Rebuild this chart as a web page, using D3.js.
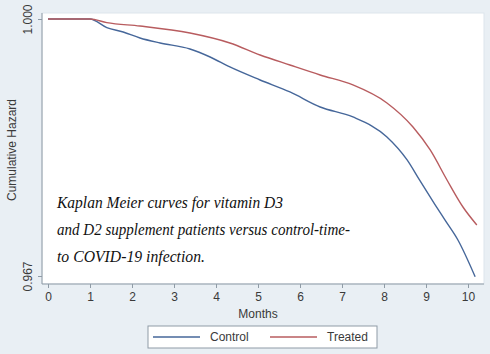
<!DOCTYPE html>
<html>
<head>
<meta charset="utf-8">
<script src="https://cdn.jsdelivr.net/npm/d3@7"></script>
<style>
  body { margin: 0; background: #e9eff4; }
  svg { display: block; }
  .tick text { font-family: "Liberation Sans", Arial, sans-serif; fill: #3a3a3a; }
</style>
</head>
<body>
<div id="chart"></div>
<script>
// figure size
var svgWidth = 490;
var svgHeight = 354;

// months
var controlMonths = [0, 1.0, 1.4, 1.79, 2.19, 2.67, 3.38, 3.86, 4.33, 5.05, 5.76, 6.48, 7.26, 8.07, 8.55, 8.86, 9.21, 9.45, 9.76, 10.17];
var controlHazard = [1.0, 1.0, 0.99890, 0.99833, 0.99756, 0.99692, 0.99615, 0.99512, 0.99384, 0.99217, 0.99063, 0.98870, 0.98742, 0.98485, 0.98190, 0.97920, 0.97620, 0.97420, 0.97162, 0.96690];

var treatedMonths = [0, 1.0, 1.4, 2.19, 3.38, 4.33, 5.05, 5.76, 6.48, 7.26, 8.07, 8.69, 9.10, 9.50, 9.88, 10.21];
var treatedHazard = [1.0, 1.0, 0.99953, 0.99910, 0.99820, 0.99692, 0.99538, 0.99409, 0.99281, 0.99153, 0.98922, 0.98613, 0.98318, 0.97933, 0.97586, 0.97355];

var xTicks = [0, 1, 2, 3, 4, 5, 6, 7, 8, 9, 10];
var yTicks = [0.967, 1.000];
var seriesNames = ["Control", "Treated"];
var seriesColors = ["#46679a", "#b85c5f"];
var noteLines = [
  "Kaplan Meier curves for vitamin D3",
  "and D2 supplement patients versus control-time-",
  "to COVID-19 infection."
];

var svg = d3.select("#chart")
  .append("svg")
  .attr("width", svgWidth)
  .attr("height", svgHeight);

// plot region (white box)
var plot = { left: 42, top: 13, right: 484, bottom: 284 };

svg.append("rect")
  .attr("x", plot.left)
  .attr("y", plot.top)
  .attr("width", plot.right - plot.left)
  .attr("height", plot.bottom - plot.top)
  .attr("fill", "#ffffff")
  .attr("stroke", "#dde5ec");

// scales
var xScale = d3.scaleLinear().domain([0, 10]).range([48, 468]);
var yScale = d3.scaleLinear().domain([0.967, 1.0]).range([276, 19]);

// x axis
var xAxis = svg.append("g")
  .attr("transform", `translate(0, ${plot.bottom})`)
  .call(d3.axisBottom(xScale).tickValues(xTicks).tickSize(4).tickPadding(4).tickFormat(d3.format("d")));
xAxis.select(".domain").attr("stroke", "#8f9ba6").attr("d", `M${plot.left},0H${plot.right}`);
xAxis.selectAll(".tick line").attr("stroke", "#8f9ba6");
xAxis.selectAll(".tick text").attr("font-size", 12);

// y axis
var yAxis = svg.append("g")
  .attr("transform", `translate(${plot.left}, 0)`)
  .call(d3.axisLeft(yScale).tickValues(yTicks).tickSize(4).tickFormat(d3.format(".3f")));
yAxis.select(".domain").attr("stroke", "#8f9ba6").attr("d", `M0,${plot.top}V${plot.bottom}`);
yAxis.selectAll(".tick line").attr("stroke", "#8f9ba6");
yAxis.selectAll(".tick text")
  .attr("font-size", 12)
  .attr("text-anchor", "middle")
  .attr("x", 0)
  .attr("dy", 0)
  .attr("transform", "translate(-10, 0) rotate(-90)");

// axis titles
svg.append("text")
  .attr("transform", "translate(16, 150) rotate(-90)")
  .attr("text-anchor", "middle")
  .attr("font-family", "Liberation Sans, Arial, sans-serif")
  .attr("font-size", 12)
  .attr("fill", "#3a3a3a")
  .text("Cumulative Hazard");

svg.append("text")
  .attr("x", 258)
  .attr("y", 318)
  .attr("text-anchor", "middle")
  .attr("font-family", "Liberation Sans, Arial, sans-serif")
  .attr("font-size", 12)
  .attr("fill", "#3a3a3a")
  .text("Months");

// curves
var line = d3.line()
  .x(d => xScale(d[0]))
  .y(d => yScale(d[1]))
  .curve(d3.curveMonotoneX);

var series = [
  d3.zip(controlMonths, controlHazard),
  d3.zip(treatedMonths, treatedHazard)
];

svg.selectAll(".km")
  .data(series)
  .enter()
  .append("path")
  .attr("class", "km")
  .attr("d", line)
  .attr("fill", "none")
  .attr("stroke", (d, i) => seriesColors[i])
  .attr("stroke-width", 1.4);

// note text
var noteWidths = [226, 293, 148];
svg.selectAll(".note")
  .data(noteLines)
  .enter()
  .append("text")
  .attr("class", "note")
  .attr("x", 57)
  .attr("y", (d, i) => 208 + i * 27)
  .attr("font-family", "Liberation Serif, serif")
  .attr("font-style", "italic")
  .attr("font-size", 17)
  .attr("fill", "#111")
  .attr("textLength", (d, i) => noteWidths[i])
  .attr("lengthAdjust", "spacingAndGlyphs")
  .text(d => d);

// legend
var legend = svg.append("g");
legend.append("rect")
  .attr("x", 148)
  .attr("y", 326)
  .attr("width", 229)
  .attr("height", 22)
  .attr("fill", "#ffffff")
  .attr("stroke", "#8f9ba6");

var legendItems = legend.selectAll(".item")
  .data(seriesNames)
  .enter()
  .append("g")
  .attr("transform", (d, i) => `translate(${153 + i * 117}, 337)`);

legendItems.append("line")
  .attr("x1", 0)
  .attr("x2", 47)
  .attr("stroke", (d, i) => seriesColors[i])
  .attr("stroke-width", 1.4);

legendItems.append("text")
  .attr("x", 57)
  .attr("dy", "0.35em")
  .attr("font-family", "Liberation Sans, Arial, sans-serif")
  .attr("font-size", 12)
  .attr("fill", "#3a3a3a")
  .text(d => d);
</script>
</body>
</html>
